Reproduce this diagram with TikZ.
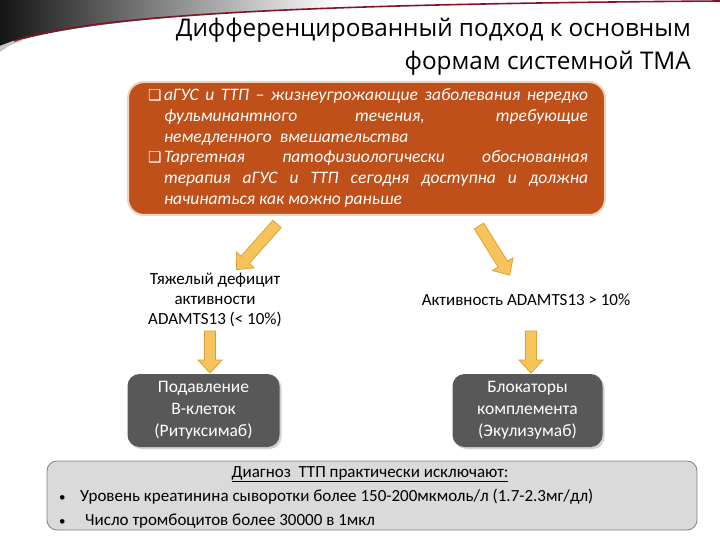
\documentclass[tikz,border=0pt]{standalone}
\usepackage{fontspec}
\setmainfont{Carlito}
\newfontfamily\titlefont{Open Sans}
\newfontfamily\dv{DejaVu Sans}
\usetikzlibrary{shadows}
\definecolor{orbox}{RGB}{192,80,26}
\definecolor{orglow}{RGB}{238,212,190}
\definecolor{darkbox}{RGB}{88,88,88}
\definecolor{arrfill}{RGB}{247,196,92}
\definecolor{arrline}{RGB}{222,160,50}
\definecolor{lightbox}{RGB}{218,218,218}
\definecolor{lightline}{RGB}{128,128,128}
\definecolor{swred}{RGB}{130,20,40}
\tikzset{
  orangebox/.style={draw=orglow, line width=2pt, fill=orbox, rounded corners=16pt, text=white, inner sep=0pt},
  darkbox/.style={fill=darkbox, rounded corners=12pt, text=white, align=center, minimum width=152pt, minimum height=73pt,
     inner sep=0pt, font=\fontsize{17.5}{22}\selectfont, drop shadow={shadow xshift=2pt, shadow yshift=-2pt, opacity=0.35}},
  graybox/.style={fill=lightbox, draw=lightline, line width=0.8pt, rounded corners=10pt, minimum width=650pt, minimum height=69pt},
  labeltext/.style={align=center, font=\fontsize{17}{20}\selectfont, text=black},
  bottomtext/.style={font=\fontsize{17}{20}\selectfont, text=black, inner sep=0pt},
  arrowshape/.style={fill=arrfill, draw=arrline, line width=0.8pt, line join=miter},
}
\newcommand\blockarr[5]{% x, y, angle, length, name
  \begin{scope}[shift={(#1,#2)}, rotate=#3]
    \coordinate (#5) at (0,0);
    \draw[arrowshape] (0,-5.5) -- (#4-13,-5.5) -- (#4-13,-12) -- (#4,0) -- (#4-13,12) -- (#4-13,5.5) -- (0,5.5) -- cycle;
  \end{scope}}
\newcommand\smbullet{{\fontsize{13}{13}\selectfont\textbullet}}
\begin{document}
\begin{tikzpicture}[x=1pt,y=-1pt]
\useasboundingbox (0,0) rectangle (720,540);
\fill[white] (0,0) rectangle (720,540);
% swoosh
\begin{scope}
  \clip (0,0) -- (720,0) -- (720,1) .. controls (300,4) and (90,15) .. (0,46) -- cycle;
  \shade[left color=black!92, right color=white] (0,0) rectangle (340,50);
\end{scope}
\fill[gray!45] (0,46) .. controls (10,42) .. (22,38) -- (22,41) .. controls (10,45) .. (0,52) -- cycle;
\draw[swred, line width=1.6pt] (14,41) .. controls (90,15) and (300,4) .. (720,1);
% title
\node[anchor=base east, font=\titlefont\fontsize{24.3}{30}\selectfont, inner sep=0pt] (t1) at (691,37) {Дифференцированный подход к основным};
\node[anchor=base east, font=\titlefont\fontsize{24.3}{30}\selectfont, inner sep=0pt] (t2) at (691,70) {формам системной ТМА};
% orange box
\node[orangebox, minimum width=477pt, minimum height=133pt] (ob) at (366.5,148.5) {};
\node[text=white, inner sep=0pt, text width=440pt, align=justify, font=\itshape\fontsize{17.5}{20.8}\selectfont] (obt) at (368,148) {%
\noindent\hangindent=16pt\hangafter=1\makebox[16pt][l]{\dv\fontsize{15}{15}\selectfont ❑}аГУС и ТТП – жизнеугрожающие заболевания нередко\linebreak фульминантного течения, требующие\linebreak немедленного\ \ вмешательства\par
\noindent\hangindent=16pt\hangafter=1\makebox[16pt][l]{\dv\fontsize{15}{15}\selectfont ❑}Таргетная патофизиологически обоснованная\linebreak терапия аГУС и ТТП сегодня доступна и должна\ \linebreak начинаться как можно раньше\par};
% labels
\node[labeltext] (l1) at (215,300) {Тяжелый дефицит\\активности\\ADAMTS13 (< 10\%)};
\node[labeltext] (l2) at (526,300) {Активность ADAMTS13 > 10\%};
% arrows
\blockarr{277}{224}{228.4}{61}{a1}
\blockarr{479}{226}{-58}{58}{a2}
\blockarr{210}{331}{-90}{42}{a3}
\blockarr{531}{331}{-90}{42}{a4}
% dark boxes
\node[darkbox] (d1) at (203.5,410.5) {Подавление\\В-клеток\\(Ритуксимаб)};
\node[darkbox, minimum width=150pt] (d2) at (527.5,410.5) {Блокаторы\\комплемента\\(Экулизумаб)};
% bottom box
\node[graybox] (bb) at (372,495.5) {};
\node[bottomtext] (b0) at (370,474) {\underline{Диагноз\ \ ТТП практически исключают:}};
\node[bottomtext, anchor=west] (b1) at (59,497) {\makebox[21pt][l]{\smbullet}Уровень креатинина сыворотки более 150-200мкмоль/л (1.7-2.3мг/дл)};
\node[bottomtext, anchor=west] (b2) at (59,521) {\makebox[26pt][l]{\smbullet}Число тромбоцитов более 30000 в 1мкл};
\end{tikzpicture}
\end{document}
